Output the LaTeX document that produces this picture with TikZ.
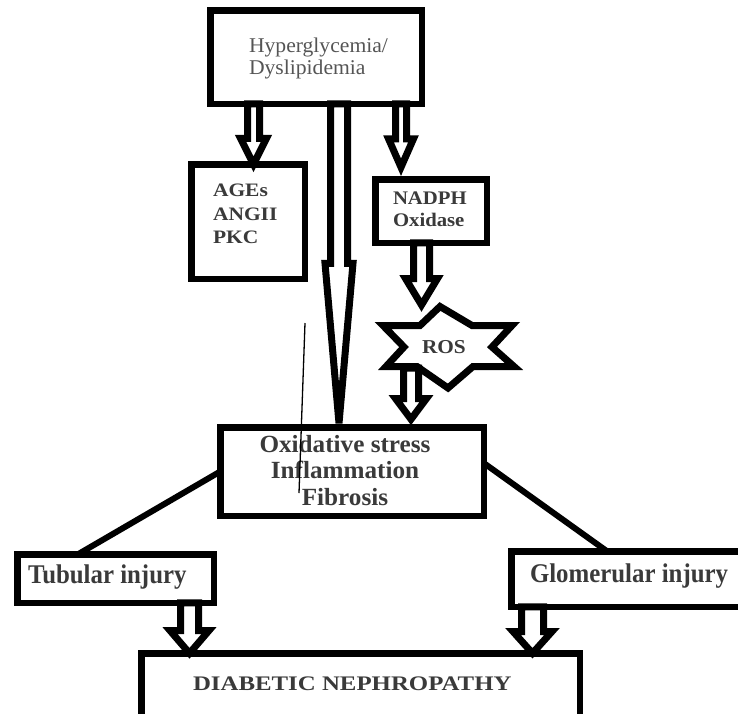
\documentclass[tikz,border=0pt]{standalone}
\usepackage{fontspec}
\setmainfont{Liberation Serif}
\newfontfamily\fTop[FakeStretch=1.03]{Liberation Serif}
\newfontfamily\fAges[FakeStretch=1.13]{Liberation Serif}
\newfontfamily\fNad[FakeStretch=1.08]{Liberation Serif}
\newfontfamily\fOx[FakeStretch=1.02]{Liberation Serif}
\newfontfamily\fInj[FakeStretch=0.92]{Liberation Serif}
\newfontfamily\fDia[FakeStretch=1.2]{Liberation Serif}
\usetikzlibrary{calc}
\definecolor{txt}{HTML}{3A3A3A}
\definecolor{txtlight}{HTML}{555555}
\newcommand{\blockarr}[5]{%
  \draw[blkstyle] let \p1=(#1), \p2=(#2) in
    (\x1-#3pt,\y1) -- (\x1-#3pt,\y2+#5pt) -- (\x1-#4pt,\y2+#5pt) -- (\x1,\y2)
    -- (\x1+#4pt,\y2+#5pt) -- (\x1+#3pt,\y2+#5pt) -- (\x1+#3pt,\y1) -- cycle;}
\begin{document}
\begin{tikzpicture}[x=1pt,y=-1pt,
  box/.style={draw=black, line width=6.5pt, fill=white, inner sep=0pt, outer sep=0pt},
  conn/.style={draw=black, line width=6pt},
  blkstyle/.style={draw=black, fill=white, line width=7pt, line join=miter, miter limit=3},
  starline/.style={draw=black, fill=white, line width=7pt, line join=miter, miter limit=3},
  lbl/.style={inner sep=0pt, outer sep=0pt, text=txt},
]
\useasboundingbox (0,0) rectangle (738,713);
\clip (0,0) rectangle (738,713);
\fill[white] (0,0) rectangle (738,713);

% boxes
\node[box, minimum width=211.5pt, minimum height=93.5pt] (top) at (316,57) {};
\node[box, minimum width=113.5pt, minimum height=114.5pt] (ages) at (248,221.5) {};
\node[box, minimum width=111.5pt, minimum height=63.5pt] (nadph) at (431,211) {};
\node[box, minimum width=263.5pt, minimum height=88.5pt] (oxi) at (352,471.5) {};
\node[box, minimum width=196.5pt, minimum height=48.5pt] (tub) at (115.5,578.5) {};
\node[box, minimum width=230.5pt, minimum height=55.5pt] (glo) at (626.5,579) {};
\node[box, minimum width=438.5pt, minimum height=68.5pt] (dia) at (360.5,687.5) {};

% connecting lines
\draw[conn] (oxi.west) -- ($(tub.north)+(-37.5,0)$);
\draw[conn] ($(oxi.east)+(0,-8.5)$) -- ($(glo.north)+(-19.5,0)$);

% ROS star
\draw[starline] (440,306.5) -- (472,325.5) -- (512,325.5) -- (492,347) -- (514,366.5)
  -- (473,366.5) -- (448,388) -- (417,366.5) -- (386,366.5) -- (404,347)
  -- (383,325.5) -- (420,325.5) -- cycle;
\coordinate (rostop) at (421.5,305);
\coordinate (rosbot) at (411,368);

% block arrows
\blockarr{$(top.south)+(-62.5,0)$}{ages.north}{6}{13}{26}
\blockarr{$(top.south)+(85,0)$}{$(nadph.north)+(0,-12)$}{5.5}{12.5}{28.5}
\blockarr{$(top.south)+(23,0)$}{$(oxi.north)+(0,-4)$}{8.5}{14}{160}
\blockarr{$(nadph.south)+(-9.5,0)$}{rostop}{8}{16}{26.5}
\blockarr{rosbot}{$(oxi.north)+(59,-8)$}{7.5}{15.5}{20.75}
\blockarr{$(tub.south)+(74,0)$}{dia.north}{9}{19.5}{22.75}
\blockarr{$(glo.south)+(-94,0)$}{dia.north}{11}{19.5}{21.75}

% texts
\node[lbl, text=txtlight, anchor=north west, align=left, font=\fTop\fontsize{21}{22}\selectfont] (toptext) at (249,37.5) {Hyperglycemia/\\Dyslipidemia};
\node[lbl, anchor=north west, align=left, font=\fAges\bfseries\fontsize{19}{23.5}\selectfont] (agestext) at (213,184.2) {AGEs\\ANGII\\PKC};
\node[lbl, anchor=north west, align=left, font=\fNad\bfseries\fontsize{19.2}{22}\selectfont] (nadtext) at (393,192) {NADPH\\Oxidase};
\node[lbl, anchor=base west, font=\fNad\bfseries\fontsize{19.7}{22}\selectfont] (ros) at (422,353) {ROS};
\node[lbl, anchor=north, align=center, font=\fOx\bfseries\fontsize{24.7}{26.5}\selectfont] (oxitext) at (345,435) {Oxidative stress\\Inflammation\\Fibrosis};
\node[lbl, anchor=base west, font=\fInj\bfseries\fontsize{27}{30}\selectfont] (tubtext) at (28,583) {Tubular injury};
\node[lbl, anchor=base west, font=\fInj\bfseries\fontsize{27}{30}\selectfont] (glotext) at (530,582) {Glomerular injury};
\node[lbl, anchor=base west, font=\fDia\bfseries\fontsize{20.7}{24}\selectfont] (diatext) at (193,690.5) {DIABETIC NEPHROPATHY};

% stray stroke
\draw[line width=1.3pt] (305,323) -- (299,493);
\end{tikzpicture}
\end{document}
